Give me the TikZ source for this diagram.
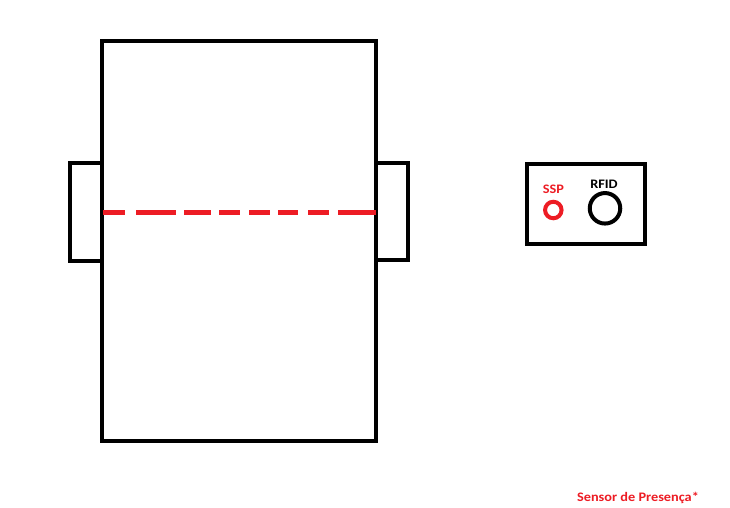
\documentclass[tikz,border=0pt]{standalone}
\usepackage{fontspec}
\setmainfont{Carlito}
\definecolor{pred}{HTML}{ED1C24}
\begin{document}
\begin{tikzpicture}[x=1pt,y=-1pt,
  blk/.style={draw=black,line width=4pt},
  dsh/.style={draw=pred,line width=5pt},
  lbl/.style={font=\bfseries\fontsize{13}{15}\selectfont,inner sep=0pt,xscale=1.1}]
\useasboundingbox[fill=white] (0,0) rectangle (730,507);
% tabs
\draw[blk] (102,163) -- (70,163) -- (70,261) -- (102,261);
\draw[blk] (376,163) -- (408,163) -- (408,259.5) -- (376,259.5);
% main body
\node[blk,minimum width=274pt,minimum height=400pt,inner sep=0pt] (body) at (239,241) {};
% dashed line
\foreach \a/\b in {103/125,136/176,184/211,219/240,249/270,278/298,308/329,338/376}
  \draw[dsh] (\a,212.3) -- (\b,212.3);
% sensor box
\node[blk,minimum width=118pt,minimum height=80.5pt,inner sep=0pt] (box) at (585.5,203.75) {};
\node[draw=pred,line width=4pt,circle,minimum size=16.5pt,inner sep=0pt] (ssp) at (553.3,210) {};
\node[draw=black,line width=4pt,circle,minimum size=30.5pt,inner sep=0pt] (rfid) at (605,208.3) {};
\node[lbl,text=pred] (ssplbl) at (553.5,189) {SSP};
\node[lbl,text=black] (rfidlbl) at (604,184) {RFID};
\node[lbl,text=pred] (legend) at (638,497.5) {Sensor de Presença*};
\end{tikzpicture}
\end{document}
